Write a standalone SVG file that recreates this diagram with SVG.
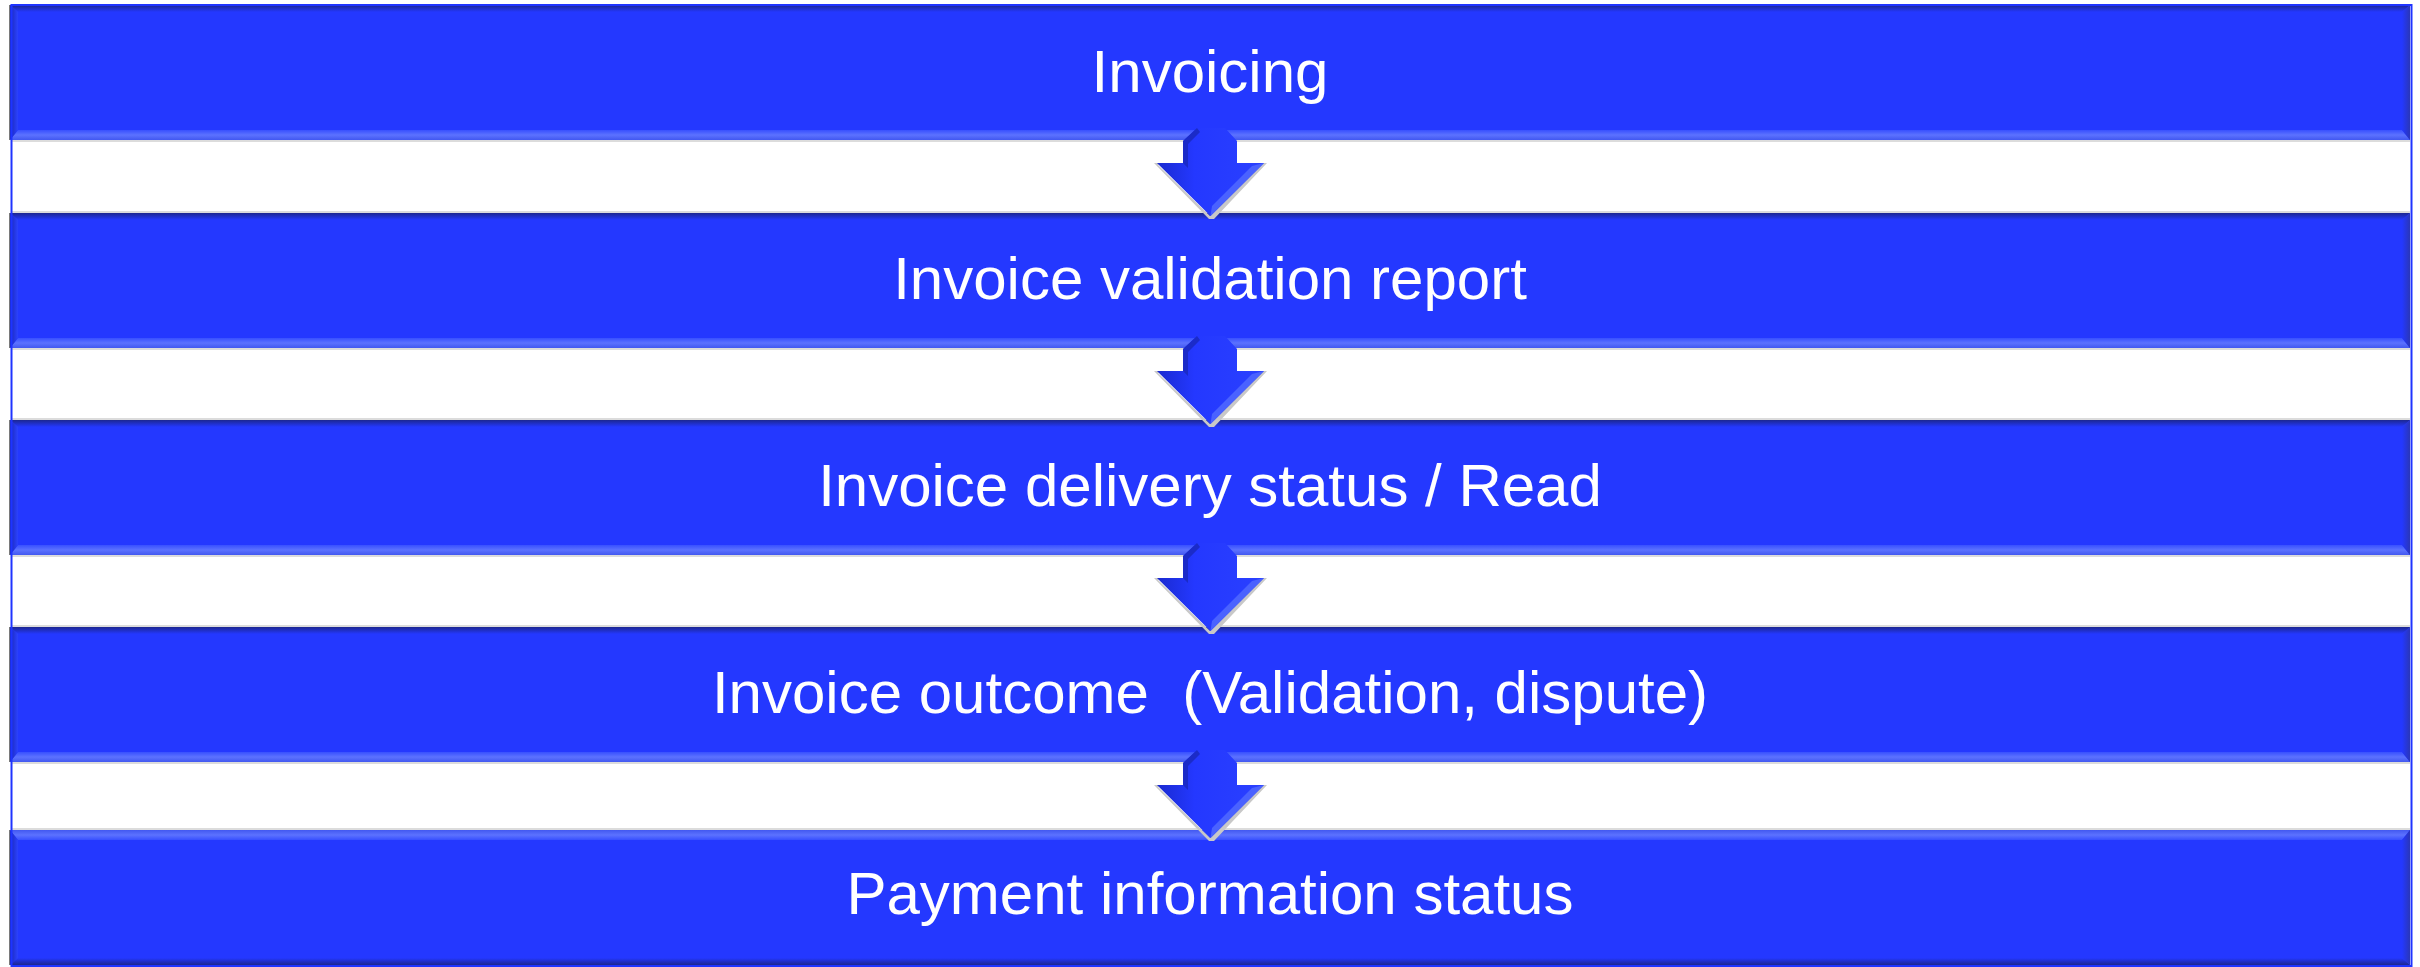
<svg xmlns="http://www.w3.org/2000/svg" xmlns:xlink="http://www.w3.org/1999/xlink" width="2420" height="967" viewBox="0 0 2420 967">
<style>
.lbl{font-family:"Liberation Sans",Arial,sans-serif;font-size:60px;fill:#ffffff;text-anchor:middle}
.face{fill:#2438ff}
.btop{fill:url(#gTop)}
.bbot{fill:url(#gBot)}
.bleft{fill:url(#gLeft)}
.bright{fill:url(#gRight)}
.edge{fill:#7a7a7a}
.shadowline{fill:#dcdcdc}
.arrowshadow{fill:#c8c8c8}
.arrowface{fill:url(#gArrow)}
.arrowlit{fill:#4a62ff}
.arrowdark{fill:#1b2bc8}
</style>
<defs>
<linearGradient id="gTop" x1="0" y1="0" x2="0" y2="1">
<stop offset="0" stop-color="#1c2790"/>
<stop offset="1" stop-color="#2438ff"/>
</linearGradient>
<linearGradient id="gBot" x1="0" y1="0" x2="0" y2="1">
<stop offset="0" stop-color="#3850ff"/>
<stop offset="0.5" stop-color="#5c72ff"/>
<stop offset="1" stop-color="#4258f0"/>
</linearGradient>
<linearGradient id="gLeft" x1="0" y1="0" x2="1" y2="0">
<stop offset="0" stop-color="#1a28b8"/>
<stop offset="1" stop-color="#2c42ff"/>
</linearGradient>
<linearGradient id="gRight" x1="0" y1="0" x2="1" y2="0">
<stop offset="0" stop-color="#2438ff"/>
<stop offset="1" stop-color="#2a36b8"/>
</linearGradient>
<linearGradient id="gArrow" x1="0" y1="0" x2="1" y2="0">
<stop offset="0" stop-color="#1a2ad0"/>
<stop offset="0.35" stop-color="#2438ff"/>
<stop offset="1" stop-color="#2a40ff"/>
</linearGradient>
<g id="bar">
<rect x="9" y="0" width="2" height="135" class="edge"/>
<rect x="10" y="0" width="2400" height="135" class="face"/>
<polygon class="btop" points="10,0 2410,0 2402,7 18,7"/>
<polygon class="bbot" points="18,125 2402,125 2410,135 10,135"/>
<polygon class="bleft" points="10,0 18,7 18,125 10,135"/>
<polygon class="bright" points="2410,0 2402,7 2402,125 2410,135"/>
</g>
<g id="arrow">
<polygon class="arrowshadow" points="1181,35 1154,35 1209,91 1214,91 1267,35 1262,35 1210,88 1158,37"/>
<polygon class="arrowface" points="1197,0 1225,0 1237,13 1237,35 1264,35 1210.5,88 1157,35 1183,35 1183,13"/>
<polygon class="arrowdark" points="1183,13 1197,0 1200,4 1188,16 1188,40 1183,35"/>
<polygon class="arrowlit" points="1264,35 1210.5,88 1212,78 1252,38"/>
</g>
</defs>
<g id="connectors">
<rect class="shadowline" x="12" y="140" width="2398" height="2"/>
<rect class="shadowline" x="12" y="211" width="2398" height="2"/>
<rect class="shadowline" x="12" y="348" width="2398" height="2"/>
<rect class="shadowline" x="12" y="418" width="2398" height="2"/>
<rect class="shadowline" x="12" y="555" width="2398" height="2"/>
<rect class="shadowline" x="12" y="625" width="2398" height="2"/>
<rect class="shadowline" x="12" y="762" width="2398" height="2"/>
<rect class="shadowline" x="12" y="828" width="2398" height="3"/>
</g>
<g id="node1">
<use xlink:href="#bar" href="#bar" transform="translate(0,5)"/>
<text class="lbl" x="1210" y="92">Invoicing</text>
</g>
<g id="node2">
<use xlink:href="#bar" href="#bar" transform="translate(0,213)"/>
<text class="lbl" x="1210" y="299">Invoice validation report</text>
</g>
<g id="node3">
<use xlink:href="#bar" href="#bar" transform="translate(0,420)"/>
<text class="lbl" x="1210" y="506">Invoice delivery status / Read</text>
</g>
<g id="node4">
<use xlink:href="#bar" href="#bar" transform="translate(0,627)"/>
<text class="lbl" x="1210" y="713">Invoice outcome &#160;(Validation, dispute)</text>
</g>
<g id="node5">
<use xlink:href="#bar" href="#bar" transform="translate(0,965) scale(1,-1)"/>
<text class="lbl" x="1210" y="914">Payment information status</text>
</g>
<g id="arrows">
<use xlink:href="#arrow" href="#arrow" transform="translate(0,128)"/>
<use xlink:href="#arrow" href="#arrow" transform="translate(0,336)"/>
<use xlink:href="#arrow" href="#arrow" transform="translate(0,543)"/>
<use xlink:href="#arrow" href="#arrow" transform="translate(0,750)"/>
</g>
<rect x="11.5" y="5" width="2400" height="961" fill="none" stroke="#1f34ff" stroke-width="2"/>
</svg>
